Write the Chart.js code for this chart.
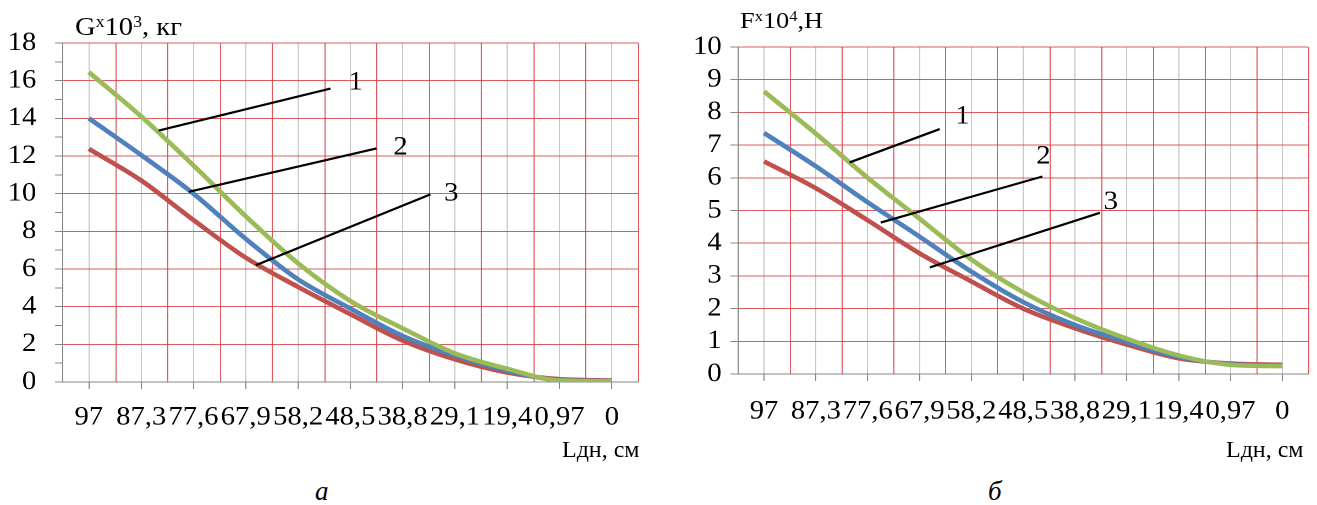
<!DOCTYPE html>
<html>
<head>
<meta charset="utf-8">
<script src="https://cdn.jsdelivr.net/npm/chart.js@4.4.1/dist/chart.umd.min.js"></script>
<style>
  body { margin: 0; background: #fff; }
  #page { position: relative; width: 1317px; height: 505px; overflow: hidden; background: #fff;
          font-family: 'Liberation Serif', 'Times New Roman', serif; color: #000; }
  canvas { position: absolute; top: 0; }
  .lbl { position: absolute; white-space: nowrap; line-height: 1; }
  /* the source figure is a little wider than it is tall, so titles are stretched the same way */
  .wide { transform: scaleX(1.1); transform-origin: 0 0; }
  .lbl sup { font-size: 0.62em; vertical-align: 0.5em; line-height: 0; }
  .cap { font-style: italic; font-size: 27px; }
</style>
</head>
<body>
<div id="page">
  <canvas id="chartG" width="600" height="440" style="left:0;width:660px;height:440px"></canvas>
  <canvas id="chartF" width="597" height="440" style="left:660px;width:657px;height:440px"></canvas>

  <div class="lbl wide" style="left:75px;top:14px;font-size:26px">G<sup>x</sup>10<sup>3</sup>, кг</div>
  <div class="lbl wide" style="left:740px;top:8px;font-size:24px">F<sup>x</sup>10<sup>4</sup>,H</div>
  <div class="lbl" style="left:562px;top:437px;font-size:24px">Lдн, см</div>
  <div class="lbl" style="left:1226px;top:437px;font-size:24px">Lдн, см</div>
  <div class="lbl cap" style="left:315px;top:478px">а</div>
  <div class="lbl cap" style="left:988px;top:478px">б</div>
</div>

<script>
// categories: Lдн, см
const lengthLabels = ['97', '87,3', '77,6', '67,9', '58,2', '48,5', '38,8', '29,1', '19,4', '0,97', '0'];

// chart а: G x10^3, кг
const weight1 = [16.45, 14.1, 11.5, 8.8, 6.3, 4.3, 2.85, 1.52, 0.7, 0.08, 0.04];
const weight2 = [14.0, 12.05, 10.0, 7.6, 5.45, 3.9, 2.45, 1.4, 0.6, 0.1, 0.05];
const weight3 = [12.38, 10.7, 8.6, 6.6, 5.05, 3.6, 2.2, 1.2, 0.5, 0.15, 0.08];

// chart б: F x10^4, H
const force1 = [8.64, 7.35, 6.0, 4.75, 3.5, 2.5, 1.71, 1.08, 0.57, 0.28, 0.24];
const force2 = [7.37, 6.35, 5.25, 4.2, 3.13, 2.2, 1.5, 0.98, 0.52, 0.3, 0.26];
const force3 = [6.5, 5.68, 4.7, 3.69, 2.83, 2.0, 1.4, 0.9, 0.48, 0.32, 0.28];

// callout lines, in category index / value units
const calloutsG = [
  { text: '1', from: [1.335, 13.35], to: [4.62, 15.58], at: [5.1, 15.9] },
  { text: '2', from: [1.91, 10.1], to: [5.5, 12.4], at: [5.96, 12.45] },
  { text: '3', from: [3.19, 6.2], to: [6.53, 9.96], at: [6.93, 10.0] }
];
const calloutsF = [
  { text: '1', from: [1.65, 6.47], to: [3.39, 7.49], at: [3.83, 7.87] },
  { text: '2', from: [2.25, 4.63], to: [5.37, 6.04], at: [5.39, 6.64] },
  { text: '3', from: [3.2, 3.26], to: [6.48, 4.93], at: [6.69, 5.26] }
];

const serif = "'Liberation Serif', 'Times New Roman', serif";
const gridRed = 'rgba(214, 62, 66, 0.85)';
const gridGray = '#c6c6c6';
const axisGray = '#868686';
const colors = ['#9bbb59', '#4f81bd', '#c0504d'];

// red lines between categories (the gray ones sit on the categories)
const boundaryGrid = {
  id: 'boundaryGrid',
  beforeDatasetsDraw(chart) {
    const { ctx, chartArea, scales: { x } } = chart;
    ctx.save();
    ctx.strokeStyle = gridRed;
    ctx.lineWidth = 1;
    for (let i = 0; i < lengthLabels.length; i++) {
      const px = Math.round(x.getPixelForValue(i + 0.5)) + 0.5;
      ctx.beginPath();
      ctx.moveTo(px, chartArea.top);
      ctx.lineTo(px, chartArea.bottom);
      ctx.stroke();
    }
    ctx.restore();
  }
};

const callouts = {
  id: 'callouts',
  afterDatasetsDraw(chart, args, opts) {
    const { ctx, scales: { x, y } } = chart;
    ctx.save();
    ctx.strokeStyle = '#000';
    ctx.lineWidth = 2.2;
    ctx.fillStyle = '#000';
    ctx.font = '26px ' + serif;
    ctx.textAlign = 'center';
    ctx.textBaseline = 'middle';
    opts.items.forEach(c => {
      ctx.beginPath();
      ctx.moveTo(x.getPixelForValue(c.from[0]), y.getPixelForValue(c.from[1]));
      ctx.lineTo(x.getPixelForValue(c.to[0]), y.getPixelForValue(c.to[1]));
      ctx.stroke();
      ctx.fillText(c.text, x.getPixelForValue(c.at[0]), y.getPixelForValue(c.at[1]));
    });
    ctx.restore();
  }
};

function makeChart(id, series, yMax, labelEvery, box, items) {
  const ctx = document.getElementById(id).getContext('2d');
  return new Chart(ctx, {
    type: 'line',
    data: {
      labels: lengthLabels,
      datasets: series.map((values, i) => ({
        data: values,
        borderColor: colors[i],
        borderWidth: 4.5,
        pointRadius: 0,
        cubicInterpolationMode: 'monotone',
        fill: false
      }))
    },
    options: {
      responsive: false,
      devicePixelRatio: 2,
      animation: false,
      events: [],
      layout: { padding: { top: box.top, right: box.right, left: 0, bottom: 0 } },
      plugins: {
        legend: { display: false },
        tooltip: { enabled: false },
        callouts: { items: items }
      },
      scales: {
        x: {
          offset: true,
          afterFit: s => { s.height = box.xHeight; },
          border: { color: axisGray },
          grid: { offset: false, color: gridGray, tickColor: axisGray, tickLength: 7 },
          ticks: {
            autoSkip: false, maxRotation: 0, minRotation: 0,
            padding: box.xPad, color: '#000', font: { family: serif, size: 26 }
          }
        },
        y: {
          min: 0,
          max: yMax,
          afterFit: s => { s.width = box.yWidth; },
          border: { color: axisGray },
          grid: {
            color: c => (c.tick.value % labelEvery === 0 ? gridRed : 'transparent'),
            tickColor: axisGray,
            tickLength: 7
          },
          ticks: {
            stepSize: 1,
            autoSkip: false,
            padding: box.yPad,
            color: '#000',
            font: { family: serif, size: 26 },
            callback: v => (v % labelEvery === 0 ? v : '')
          }
        }
      }
    },
    plugins: [boundaryGrid, callouts]
  });
}

makeChart('chartG', [weight1, weight2, weight3], 18, 2,
  { top: 43, right: 20, xHeight: 58, xPad: 13, yWidth: 57, yPad: 17 }, calloutsG);
makeChart('chartF', [force1, force2, force3], 10, 1,
  { top: 47, right: 8, xHeight: 66, xPad: 15, yWidth: 71, yPad: 8 }, calloutsF);
</script>
</body>
</html>
